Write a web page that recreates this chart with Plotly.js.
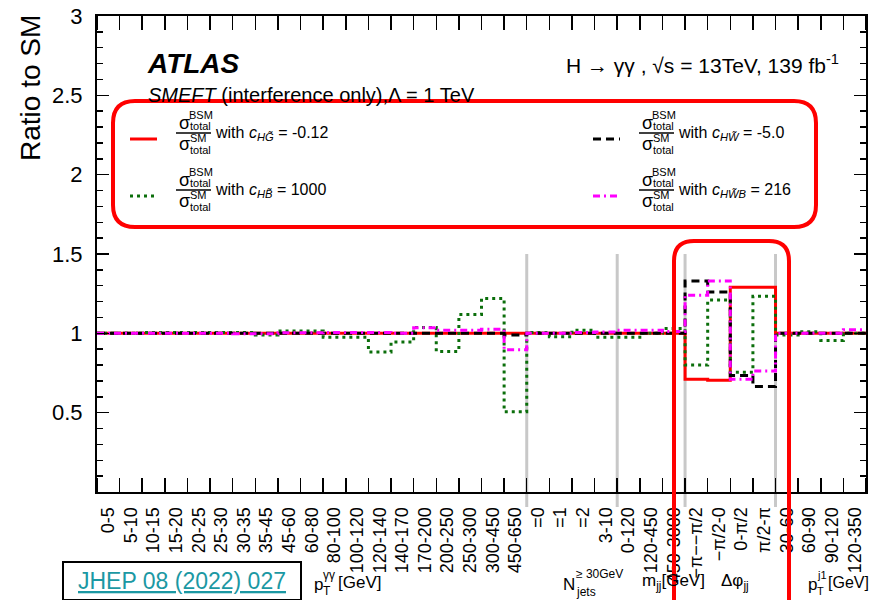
<!DOCTYPE html>
<html><head><meta charset="utf-8">
<script src="https://cdn.plot.ly/plotly-3.0.1.min.js"></script>
<style>html,body{margin:0;padding:0;background:#fff}#chart{width:869px;height:600px}</style>
</head><body><div id="chart"></div>
<script>
// ---------------- data ----------------
const ptyyBins = ['0-5','5-10','10-15','15-20','20-25','25-30','30-35','35-45','45-60','60-80','80-100','100-120','120-140','140-170','170-200','200-250','250-300','300-450','450-650'];
const njetsBins = ['=0','=1','=2','3-10'];
const mjjBins = ['0-120','120-450','450-3000'];
const dphiBins = ['−π−−π/2','−π/2-0','0-π/2','π/2-π'];
const ptj1Bins = ['30-60','60-90','90-120','120-350'];
const categories = [].concat(ptyyBins, njetsBins, mjjBins, dphiBins, ptj1Bins);
const groupSizes = [ptyyBins.length, njetsBins.length, mjjBins.length, dphiBins.length, ptj1Bins.length];

// ratio to SM, one value per bin
const ratioHG  = [1,1,1,1,1,1,1,1,1,1,1,1,1,1,1,1,1,1,1, 1,1,1,1, 1,1,1, 0.71,0.705,1.29,1.29, 1,1,1,1];
const ratioHB  = [1,1,1.006,1.006,1.006,1.006,1.006,0.99,1.015,1.015,0.976,0.976,0.882,0.945,1.036,0.886,1.118,1.22,0.505,
                  1.005,0.978,1.02,0.975, 0.975,1.0,1.03, 0.80,1.21,0.755,1.233, 0.99,1.01,0.955,1.0];
const ratioHW  = [1,1,1,1,1,1,1,1,1,1,1,1,1,1,1,1,1,1,0.99, 1,1,1,1, 1,1,1, 1.33,1.26,0.735,0.665, 1,1,1,1];
const ratioHWB = [1,1,1,1,1,1,0.997,0.997,1.004,1.004,1.006,1.006,1.006,1.0,1.035,1.02,1.02,1.025,0.897,
                  1,1,1.005,1.008, 1.02,1.02,1.012, 1.24,1.33,0.71,0.762, 1,1,1,1.022];

const seriesSub   = ['HG̃','HB̃','HW̃','HW̃B'];
const seriesCoefs = ['-0.12','1000','-5.0','216'];
const yTickVals = [0.5,1,1.5,2,2.5,3];
const yTickText = ['0.5','1','1.5','2','2.5','3'];

// ---------------- helpers ----------------
const FONT = 'Liberation Sans, Arial, Helvetica, sans-serif';
const L=97, R=866, T=16, B=492;
const PX = x => (x-L)/(R-L);
const PY = y => (B-y)/(B-T);

const edges = categories.map((_,i)=>i).concat([categories.length]);
const centers = categories.map((_,i)=>i+0.5);
const stepY = v => v.concat([v[v.length-1]]);

const styles = [
  {color:'#ff0000', dash:'solid', width:3},
  {color:'#0b6e0b', dash:'3px,4px', width:3},
  {color:'#000000', dash:'8px,5px', width:3},
  {color:'#ff00ff', dash:'7px,4px,2px,4px', width:3}
];
const allSeries = [ratioHG, ratioHB, ratioHW, ratioHWB];

const traces = allSeries.map((v,k)=>({
  type:'scatter', mode:'lines', x:edges, y:stepY(v),
  line:{shape:'hv', color:styles[k].color, width:styles[k].width, dash:styles[k].dash},
  hoverinfo:'skip', showlegend:false
}));

function txt(x,y,text,size,opts){
  return Object.assign({xref:'paper',yref:'paper',x:PX(x),y:PY(y),text:text,showarrow:false,
    xanchor:'left',yanchor:'middle',font:{family:FONT,size:size,color:'black'}}, opts||{});
}

function roundBox(x0,y0,x1,y1,r,openBottom){
  const rx=r/(R-L), ry=r/(B-T);
  const X0=PX(x0),X1=PX(x1),Y0=PY(y0),Y1=PY(y1);
  let p;
  if(openBottom){
    p = `M${X0},${Y1} L${X0},${Y0-ry} Q${X0},${Y0} ${X0+rx},${Y0} L${X1-rx},${Y0} Q${X1},${Y0} ${X1},${Y0-ry} L${X1},${Y1}`;
  } else {
    p = `M${X0+rx},${Y0} L${X1-rx},${Y0} Q${X1},${Y0} ${X1},${Y0-ry} L${X1},${Y1+ry} Q${X1},${Y1} ${X1-rx},${Y1} L${X0+rx},${Y1} Q${X0},${Y1} ${X0},${Y1+ry} L${X0},${Y0-ry} Q${X0},${Y0} ${X0+rx},${Y0} Z`;
  }
  return {type:'path', xref:'paper', yref:'paper', path:p, line:{color:'#ff0000', width:4}, layer:'above'};
}

const shapes = [];
const annotations = [];

// group separators
let acc = 0;
groupSizes.slice(0,-1).forEach(n=>{
  acc += n;
  shapes.push({type:'line', xref:'x', yref:'paper', x0:acc, x1:acc, y0:PY(507), y1:0.5,
    line:{color:'#c8c8c8', width:3}, layer:'below'});
});

// legend
const legendPos = [{fx:177,cy:133,lx:130},{fx:177,cy:190,lx:130},{fx:640,cy:133,lx:593},{fx:640,cy:190,lx:593}];
legendPos.forEach((p,k)=>{
  shapes.push({type:'line', xref:'paper', yref:'paper', x0:PX(p.lx), x1:PX(p.lx+27), y0:PY(p.cy+6), y1:PY(p.cy+6),
    line:{color:styles[k].color, width:3, dash:styles[k].dash}});
  shapes.push({type:'line', xref:'paper', yref:'paper', x0:PX(p.fx-1), x1:PX(p.fx+34), y0:PY(p.cy), y1:PY(p.cy),
    line:{color:'black', width:1.5}});
  annotations.push(txt(p.fx, p.cy-10, 'σ', 18));
  annotations.push(txt(p.fx+10, p.cy-18, 'BSM', 11));
  annotations.push(txt(p.fx+11, p.cy-7, 'total', 11));
  annotations.push(txt(p.fx, p.cy+11, 'σ', 18));
  annotations.push(txt(p.fx+11, p.cy+5, 'SM', 11));
  annotations.push(txt(p.fx+11, p.cy+17, 'total', 11));
  annotations.push(txt(p.fx+36, p.cy, 'with <i>c</i><sub><i>'+seriesSub[k]+'</i></sub> = '+seriesCoefs[k], 16));
});

shapes.push(roundBox(113,101,816,227,22,false));
shapes.push(roundBox(674,241,789,640,20,true));

// texts
annotations.push(txt(145, 64, '<b><i>ATLAS</i></b>', 28));
annotations.push(txt(146, 95, '<i>SMEFT</i> (interference only),Λ = 1 TeV', 20));
annotations.push(txt(841, 64, 'H → γγ , √s = 13TeV, 139 fb<sup>-1</sup>', 21, {xanchor:'right'}));
annotations.push(txt(30, 88, 'Ratio to SM', 28, {xanchor:'center', textangle:-90}));

// group titles (x-axis region labels)
annotations.push(txt(312, 584, 'p', 17));
annotations.push(txt(321, 575, 'γγ', 12));
annotations.push(txt(321, 591, 'T', 12));
annotations.push(txt(336, 582, '[GeV]', 17));

annotations.push(txt(561, 584, 'N', 17));
annotations.push(txt(574, 574, '≥ 30GeV', 12));
annotations.push(txt(574, 592, 'jets', 12));

annotations.push(txt(640, 582, 'm<sub>jj</sub>[GeV]', 17));
annotations.push(txt(719, 582, 'Δφ<sub>jj</sub>', 17));

annotations.push(txt(806, 584, 'p', 17));
annotations.push(txt(815, 575, 'j1', 11));
annotations.push(txt(815, 591, 'T', 11));
annotations.push(txt(826, 582, '[GeV]', 16));

annotations.push(txt(182, 581, '<u>JHEP 08 (2022) 027</u>', 23,
  {xanchor:'center', font:{family:FONT,size:23,color:'#1b98a3'}, bordercolor:'black', borderwidth:2,
   bgcolor:'white', borderpad:4, width:228, height:28}));

const layout = {
  width:869, height:600,
  margin:{l:L, r:869-R, t:T, b:600-B, pad:0},
  paper_bgcolor:'white', plot_bgcolor:'rgba(0,0,0,0)',
  showlegend:false,
  font:{family:FONT, color:'black'},
  xaxis:{range:[0,categories.length], tickmode:'array', tickvals:centers, ticktext:categories,
    tickangle:-90, ticks:'', showline:true, linecolor:'black', linewidth:2, mirror:'allticks',
    showgrid:false, zeroline:false, tickfont:{family:FONT,size:18,color:'black'}, ticklabelstandoff:6,
    minor:{tickmode:'linear', tick0:0, dtick:1, ticks:'inside', ticklen:14, tickwidth:1.5, tickcolor:'black', showgrid:false},
    fixedrange:true},
  yaxis:{range:[0,3], tickmode:'array', tickvals:yTickVals, ticktext:yTickText,
    ticks:'inside', ticklen:12, tickwidth:1.5, tickcolor:'black',
    showline:true, linecolor:'black', linewidth:2, mirror:'allticks',
    showgrid:false, zeroline:false, tickfont:{family:FONT,size:22,color:'black'}, ticklabelstandoff:8,
    minor:{tickmode:'linear', tick0:0, dtick:0.1, ticks:'inside', ticklen:6, tickwidth:1.5, tickcolor:'black', showgrid:false},
    fixedrange:true},
  shapes:shapes,
  annotations:annotations
};

Plotly.newPlot('chart', traces, layout, {staticPlot:true, displayModeBar:false});
</script>
</body></html>
